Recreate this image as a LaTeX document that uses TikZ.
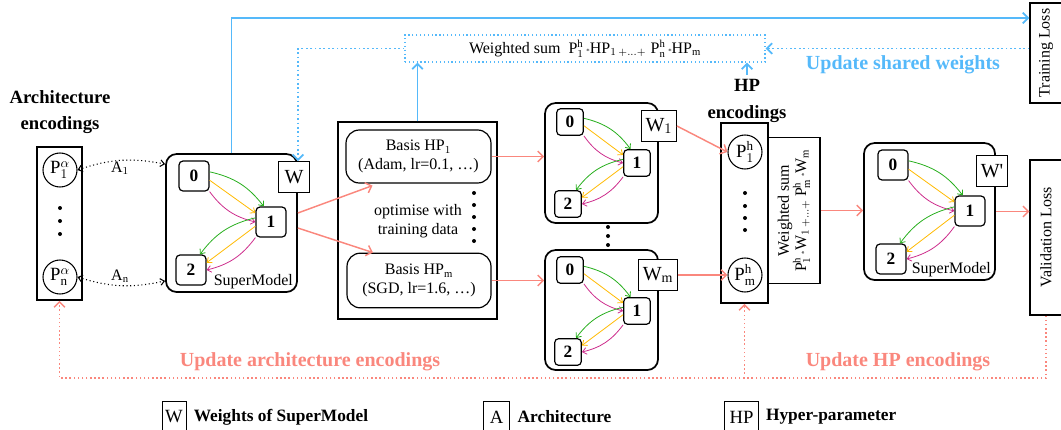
\documentclass[tikz,border=0pt]{standalone}
\usepackage{fontspec}
\setmainfont{Liberation Serif}
\usetikzlibrary{arrows.meta,calc,positioning}

\definecolor{skyblue}{RGB}{85,185,250}
\definecolor{salmon}{RGB}{250,135,125}
\definecolor{opgreen}{RGB}{40,175,30}
\definecolor{oporange}{RGB}{255,185,0}
\definecolor{opmagenta}{RGB}{205,45,140}

\tikzset{
	opnode/.style={draw,fill=white,line width=0.9pt,rounded corners=3pt,minimum size=22.5pt,inner sep=0pt,font=\fontsize{13}{15}\selectfont\bfseries},
	smbox/.style={draw,line width=1.3pt,rounded corners=8pt},
	wbox/.style={draw,fill=white,line width=0.9pt,minimum height=23pt,minimum width=23pt,inner sep=1pt,font=\fontsize{15}{17}\selectfont},
	encbox/.style={draw,line width=1.3pt},
	enc/.style={draw,circle,line width=0.8pt,minimum size=25.5pt,inner sep=0pt,font=\fontsize{14}{16}\selectfont},
	lossbox/.style={draw,line width=1pt,rotate=90,minimum height=24pt},
	boldlabel/.style={font=\fontsize{14}{20}\selectfont\bfseries,align=center},
	updlabel/.style={font=\fontsize{15}{18}\selectfont\bfseries},
	legbox/.style={draw,line width=0.7pt,minimum height=24pt,inner sep=1pt,font=\fontsize{14}{16}\selectfont},
	legtext/.style={font=\fontsize{13}{15}\selectfont\bfseries},
	redarr/.style={salmon,line width=1.1pt,-{Straight Barb[length=4pt,width=8pt]}},
	bluearr/.style={skyblue,line width=1.3pt,-{Straight Barb[length=4pt,width=8pt]}},
	darr/.style={dotted,line width=0.8pt,{Straight Barb[length=3pt,width=5pt]}-{Straight Barb[length=3pt,width=5pt]}},
	op/.style={line width=0.6pt,-{Straight Barb[length=3pt,width=5pt]}},
	dot/.style={circle,fill,inner sep=0pt,minimum size=3pt},
}

% cell of a supermodel: name prefix, node options, positions of 0, 1, 2
\newcommand{\cellgraph}[5]{
	\node[opnode,#2] (#1zero) at (#3) {0};
	\node[opnode,#2] (#1one) at (#4) {1};
	\node[opnode,#2] (#1two) at (#5) {2};
	\draw[op,opgreen] (#1zero.15) to[bend left=20] (#1one.115);
	\draw[op,oporange] (#1zero.-15) -- (#1one.150);
	\draw[op,opmagenta] (#1zero.-45) to[bend right=20] (#1one.180);
	\draw[op,opgreen] (#1one.165) to[bend right=20] (#1two.60);
	\draw[op,oporange] (#1one.195) -- (#1two.25);
	\draw[op,opmagenta] (#1one.-135) to[bend left=20] (#1two.0);
}

\begin{document}
\begin{tikzpicture}[x=0.75pt,y=0.75pt,font=\fontsize{12}{14}\selectfont]
	\useasboundingbox (0,0) rectangle (1061,-429);
	
	% architecture encodings
	\node[boldlabel] (archlabel) at (60,-112) {Architecture\\encodings};
	\node[encbox,minimum width=33.75pt,minimum height=114.75pt] (arch) at (59.5,-223.5) {};
	\node[enc] (pa1) at (60,-170) {$\mathrm{P}^{\alpha}_{1}$};
	\node[enc] (pan) at (60,-277) {$\mathrm{P}^{\alpha}_{\mathrm{n}}$};
	\foreach \y in {-208,-221,-234}
		\node[dot] at (60,\y) {};
	
	% supermodel
	\node[smbox,minimum width=98.25pt,minimum height=103.5pt] (sm) at (231.5,-223) {};
	\cellgraph{s}{}{194,-176}{271,-222}{191,-270}
	\node[wbox] (w) at (294,-177) {W};
	\node[anchor=south east,inner sep=2pt] (smlabel) at ($(sm.south east)+(-2,1)$) {SuperModel};
	\draw[darr] (pa1.east) to[bend left=15] ($(sm.north west)+(0,-11)$);
	\draw[darr] (pan.east) to[bend right=15] ($(sm.south west)+(0,12)$);
	\node (a1) at (120,-168) {A$_1$};
	\node (an) at (120,-276) {A$_\mathrm{n}$};
	
	% basis hyper-parameters
	\node[draw,line width=0.9pt,minimum width=119.25pt,minimum height=147.75pt] (basis) at (417.5,-220.5) {};
	\node[draw,line width=0.9pt,rounded corners=10pt,align=center,minimum width=108.75pt,minimum height=39.75pt] (hp1) at (418.5,-156.5) {Basis HP$_1$\\(Adam, lr=0.1, \ldots)};
	\node[draw,line width=0.9pt,rounded corners=10pt,align=center,minimum width=108pt,minimum height=41pt] (hpm) at (419,-280.5) {Basis HP$_\mathrm{m}$\\(SGD, lr=1.6, \ldots)};
	\node[align=center] (optlabel) at (418,-221) {optimise with\\training data};
	\foreach \y in {-193,-205,-217,-229,-241}
		\node[dot] at (474,\y) {};
	
	% trained supermodels
	\node[smbox,minimum width=84.75pt,minimum height=90pt] (m1) at (601.5,-163) {};
	\cellgraph{p}{minimum size=20pt}{570,-122}{637,-163}{568,-204}
	\node[wbox,minimum width=26pt] (w1) at (659,-126) {W$_1$};
	\node[smbox,minimum width=84.75pt,minimum height=90pt] (m2) at (601.5,-310) {};
	\cellgraph{q}{minimum size=20pt}{570,-270}{637,-311}{568,-352}
	\node[wbox,minimum width=29pt] (wm) at (658,-275) {W$_\mathrm{m}$};
	\foreach \y in {-227,-236,-245}
		\node[dot] at (608,\y) {};
	
	% HP encodings
	\node[boldlabel] (hplabel) at (747,-101) {HP\\encodings};
	\node[encbox,minimum width=35.25pt,minimum height=135pt] (hpenc) at (744.5,-213) {};
	\node[enc] (ph1) at (745,-152) {$\mathrm{P}^{\mathrm{h}}_{1}$};
	\node[enc] (phm) at (745,-275) {$\mathrm{P}^{\mathrm{h}}_{\mathrm{m}}$};
	\foreach \y in {-193,-206,-218,-230}
		\node[dot] at (745,\y) {};
	\node[draw,line width=0.9pt,rotate=90,align=center,minimum width=110pt,minimum height=39pt,inner sep=1pt,font=\fontsize{12}{13}\selectfont] (wsum) at (794,-210.5) {Weighted sum\\$\mathrm{P}^{\mathrm{h}}_{1}$\,{\tiny*}W$_1$$_{\,+\ldots+}$\,$\mathrm{P}^{\mathrm{h}}_{\mathrm{m}}$\,{\tiny*}W$_\mathrm{m}$};
	
	% final supermodel
	\node[smbox,minimum width=98.25pt,minimum height=102.75pt] (fsm) at (929.5,-211.5) {};
	\cellgraph{f}{}{893,-165}{970,-211}{891,-259}
	\node[wbox] (wp) at (992,-171) {W\textquotesingle};
	\node[anchor=south east,inner sep=2pt] (fsmlabel) at ($(fsm.south east)+(-2,1)$) {SuperModel};
	
	% losses
	\node[lossbox,minimum width=75pt] (tloss) at (1046,-53) {Training Loss};
	\node[lossbox,minimum width=116.25pt] (vloss) at (1046,-237.5) {Validation Loss};
	
	% weighted sum of HPs
	\node[draw=skyblue,dotted,line width=0.9pt,minimum width=270pt,minimum height=20.25pt,font=\fontsize{12}{14}\selectfont] (wsbox) at (585,-48.5) {Weighted sum \ $\mathrm{P}^{\mathrm{h}}_{1}$\,{\tiny*}HP$_1$$_{\,+\ldots+}$\;$\mathrm{P}^{\mathrm{h}}_{\mathrm{n}}$\,{\tiny*}HP$_\mathrm{m}$};
	
	% blue connectors
	\draw[bluearr] (sm.north) |- ($(tloss.north)+(0,35)$);
	\draw[bluearr] (basis.north) -- (basis.north |- wsbox.south);
	\draw[bluearr] (hplabel.north) -- (hplabel.north |- wsbox.south);
	\draw[bluearr,dotted] (tloss.north |- wsbox.east) -- (wsbox.east);
	\draw[bluearr,dotted] (wsbox.west) -| ($(w.north)+(4,0)$);
	\node[updlabel,text=skyblue] (updw) at (903,-65) {Update shared weights};
	
	% salmon connectors
	\draw[redarr] ([yshift=7.5pt]sm.east) -- ($(hp1.south)+(-46,-2)$);
	\draw[redarr] ([yshift=-3.75pt]sm.east) -- ($(hpm.north)+(-46,0)$);
	\draw[redarr] (hp1.east) -- (hp1.east -| m1.west);
	\draw[redarr] (hpm.east) -- (hpm.east -| m2.west);
	\draw[redarr] (w1.east) -- (ph1.west);
	\draw[redarr] (wm.east) -- (phm.west);
	\draw[redarr] (wsum.south) -- (wsum.south -| fsm.west);
	\draw[redarr] (fsm.east) -- (fsm.east -| vloss.north);
	\coordinate (loop) at (0,-378);
	\draw[redarr,dotted] (vloss.west) |- (loop -| arch.south) -- (arch.south);
	\draw[redarr,dotted] (loop -| hpenc.south) -- (hpenc.south);
	\node[updlabel,text=salmon] (updarch) at (310,-362) {Update architecture encodings};
	\node[updlabel,text=salmon] (updhp) at (898,-362) {Update HP encodings};
	
	% legend
	\node[legbox,minimum width=18pt] (legw) at (174,-417) {W};
	\node[legtext,right=2pt of legw] (legwtxt) {Weights of SuperModel};
	\node[legbox,minimum width=20pt] (lega) at (496.5,-417) {A};
	\node[legtext,right=2pt of lega] (legatxt) {Architecture};
	\node[legbox,minimum width=25pt] (leghp) at (741.5,-417) {HP};
	\node[legtext,right=2pt of leghp] (leghptxt) {Hyper-parameter};
	
\end{tikzpicture}
\end{document}
